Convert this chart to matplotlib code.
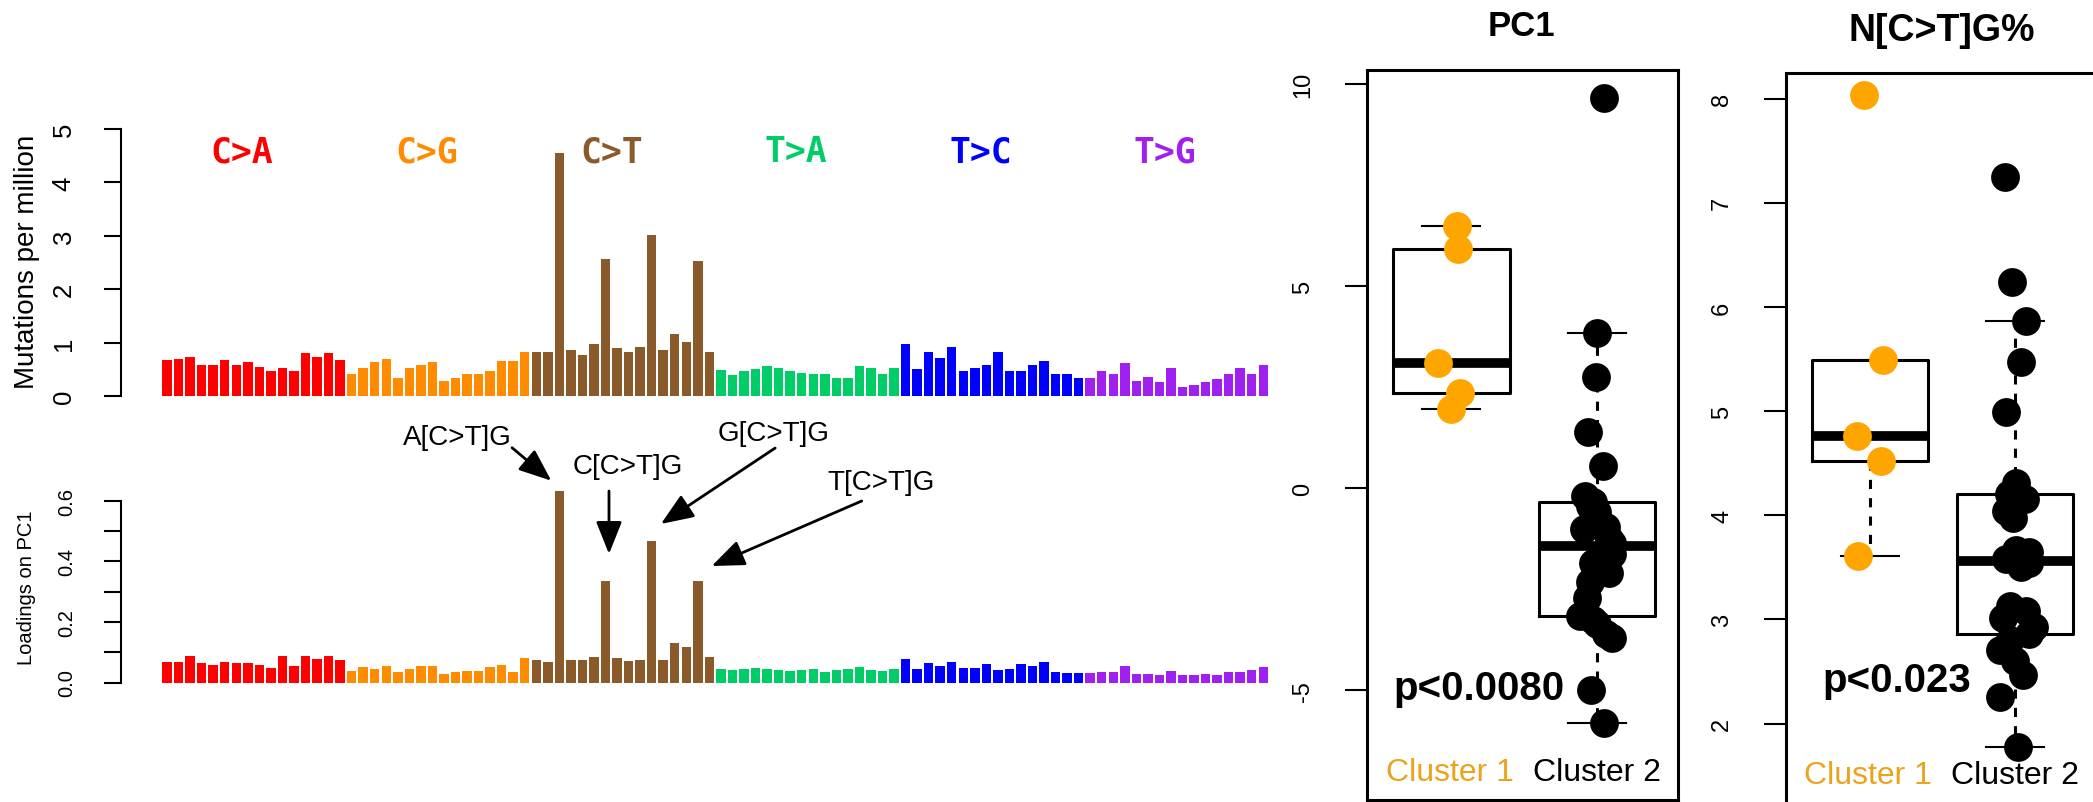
import numpy as np
import matplotlib
matplotlib.use('Agg')
import matplotlib.pyplot as plt

plt.rcParams['font.family'] = ['Liberation Sans', 'DejaVu Sans']

# 96 trinucleotide channels, 16 per substitution class
classes = ['C>A', 'C>G', 'C>T', 'T>A', 'T>C', 'T>G']
class_colors = ['#FF0000', '#FF8C00', '#8B5A2B', '#00CD66', '#0000FF', '#A020F0']

rate_ca = [0.67, 0.69, 0.74, 0.58, 0.58, 0.67, 0.58, 0.63, 0.55, 0.47, 0.52, 0.47, 0.80, 0.74, 0.80, 0.67]
rate_cg = [0.42, 0.52, 0.64, 0.69, 0.33, 0.52, 0.58, 0.64, 0.28, 0.33, 0.41, 0.41, 0.47, 0.66, 0.66, 0.82]
rate_ct = [0.82, 0.82, 4.55, 0.86, 0.77, 0.97, 2.57, 0.90, 0.83, 0.92, 3.02, 0.86, 1.17, 1.02, 2.52, 0.82]
rate_ta = [0.49, 0.39, 0.46, 0.51, 0.57, 0.52, 0.46, 0.44, 0.41, 0.41, 0.34, 0.34, 0.57, 0.52, 0.42, 0.52]
rate_tc = [0.97, 0.51, 0.82, 0.71, 0.92, 0.46, 0.52, 0.58, 0.83, 0.46, 0.47, 0.58, 0.66, 0.41, 0.41, 0.34]
rate_tg = [0.34, 0.47, 0.41, 0.61, 0.28, 0.36, 0.26, 0.52, 0.17, 0.21, 0.27, 0.32, 0.42, 0.52, 0.42, 0.58]

load_ca = [0.069, 0.069, 0.089, 0.064, 0.059, 0.069, 0.064, 0.064, 0.059, 0.047, 0.089, 0.054, 0.089, 0.078, 0.089, 0.074]
load_cg = [0.039, 0.050, 0.045, 0.054, 0.034, 0.045, 0.054, 0.054, 0.028, 0.034, 0.039, 0.039, 0.050, 0.059, 0.034, 0.080]
load_ct = [0.075, 0.067, 0.634, 0.075, 0.075, 0.083, 0.337, 0.080, 0.070, 0.075, 0.469, 0.075, 0.131, 0.116, 0.337, 0.085]
load_ta = [0.045, 0.040, 0.044, 0.048, 0.044, 0.040, 0.038, 0.042, 0.046, 0.036, 0.040, 0.044, 0.050, 0.042, 0.038, 0.046]
load_tc = [0.078, 0.045, 0.063, 0.056, 0.067, 0.047, 0.047, 0.061, 0.042, 0.045, 0.061, 0.056, 0.067, 0.036, 0.031, 0.031]
load_tg = [0.031, 0.036, 0.036, 0.056, 0.028, 0.028, 0.025, 0.039, 0.025, 0.025, 0.028, 0.025, 0.034, 0.034, 0.042, 0.050]

highlight = ['A[C>T]G', 'C[C>T]G', 'G[C>T]G', 'T[C>T]G']

# per-sample values for the two clusters
pc1_c1 = [6.48, 5.92, 3.10, 2.34, 1.96]
pc1_c2 = [9.66, 3.84, 2.76, 1.39, 0.54, -0.19, -0.35, -0.45, -0.60, -0.95, -1.01, -1.25, -1.36,
          -1.50, -1.62, -1.85, -2.10, -2.32, -2.72, -3.16, -3.25, -3.35, -3.62, -3.70, -5.00, -5.80]
nctg_c1 = [8.04, 5.49, 4.76, 4.52, 3.61]
nctg_c2 = [7.25, 6.24, 5.87, 5.47, 4.99, 4.31, 4.20, 4.16, 4.04, 3.97, 3.67, 3.65, 3.58,
           3.54, 3.50, 3.13, 3.08, 3.01, 2.93, 2.86, 2.80, 2.71, 2.60, 2.47, 2.25, 1.77]
# horizontal jitter
pc1_j1 = [0.04, 0.05, -0.09, 0.06, 0.0]
pc1_j2 = [0.05, 0.0, -0.01, -0.06, 0.04, -0.08, -0.03, -0.05, 0.0, 0.06, -0.09, 0.08, 0.10,
          0.07, 0.10, -0.03, 0.08, -0.05, -0.07, -0.12, -0.03, 0.0, 0.06, 0.10, -0.04, 0.05]
nctg_j1 = [-0.04, 0.09, -0.09, 0.08, -0.08]
nctg_j2 = [-0.07, -0.02, 0.08, 0.04, -0.06, 0.01, -0.04, 0.07, -0.06, -0.01, 0.01, 0.10, -0.06,
           0.10, 0.04, -0.03, 0.08, -0.08, 0.13, 0.10, -0.03, -0.10, 0.0, 0.06, -0.10, 0.02]
pvals = ['p<0.0080', 'p<0.023']

W, H = 2093, 803


def rect(left, top, right, bottom):
    return [left / W, 1 - bottom / H, (right - left) / W, (bottom - top) / H]


def tukey(vals):
    # R boxplot.stats: hinges + 1.5 IQR whiskers
    v = np.sort(np.asarray(vals))
    n = len(v)
    n4 = np.floor((n + 3) / 2) / 2
    d = np.array([1, n4, (n + 1) / 2, n + 1 - n4, n]) - 1
    q = 0.5 * (v[np.floor(d).astype(int)] + v[np.ceil(d).astype(int)])
    iqr = q[3] - q[1]
    lo = v[v >= q[1] - 1.5 * iqr].min()
    hi = v[v <= q[3] + 1.5 * iqr].max()
    return dict(med=q[2], q1=q[1], q3=q[3], whislo=lo, whishi=hi, fliers=[])


fig = plt.figure(figsize=(W / 100, H / 100), dpi=100)

colors = np.repeat(class_colors, 16)
idx = np.arange(96)
rates = np.concatenate([rate_ca, rate_cg, rate_ct, rate_ta, rate_tc, rate_tg])
loads = np.concatenate([load_ca, load_cg, load_ct, load_ta, load_tc, load_tg])

# --- spectrum ---
ax1 = fig.add_axes(rect(121, 120, 1280, 410))
ax1.bar(idx, rates, width=0.82, color=colors)
ax1.set_xlim(-3.99, 96.45)
ax1.set_ylim(-0.243, 5.187)
for k, (c, col) in enumerate(zip(classes, class_colors)):
    ax1.text(16 * k + 6.5, 4.58, c, color=col, ha='center', va='center',
             family='DejaVu Sans Mono', weight='bold', fontsize=25)

# --- loadings ---
ax2 = fig.add_axes(rect(121, 420, 1280, 700))
ax2.bar(idx, loads, width=0.82, color=colors)
ax2.set_xlim(-3.99, 96.45)
ax2.set_ylim(-0.0545, 0.871)

label_xy = [(25.2, 0.812), (39.9, 0.716), (52.6, 0.825), (61.9, 0.663)]
tails = [(29.9, 0.776), (38.3, 0.633), (52.7, 0.775), (60.2, 0.600)]
heads = [(33.3, 0.667), (38.3, 0.425), (42.8, 0.524), (47.2, 0.385)]
for lab, (tx, ty), tl, hd in zip(highlight, label_xy, tails, heads):
    ax2.text(tx, ty, lab, ha='center', va='center', fontsize=20)
    ax2.annotate('', xy=hd, xytext=tl,
                 arrowprops=dict(arrowstyle='-|>,head_length=1.0,head_width=0.4',
                                 lw=2, color='black', mutation_scale=20,
                                 shrinkA=0, shrinkB=0))

for ax, ticks, labs, fs, lo, hi in [
        (ax1, np.arange(6), ['0', '1', '2', '3', '4', '5'], 18.5, 0, 5),
        (ax2, np.arange(7) / 10, ['0.0', '', '0.2', '', '0.4', '', '0.6'], 14.5, 0, 0.6)]:
    for s in ['top', 'right', 'bottom']:
        ax.spines[s].set_visible(False)
    ax.spines['left'].set_bounds(lo, hi)
    ax.spines['left'].set_linewidth(1.5)
    ax.set_xticks([])
    ax.set_yticks(ticks)
    ax.set_yticklabels(labs, rotation=90, va='center', fontsize=fs)
    ax.tick_params(axis='y', length=12.5, width=1.5, pad=20)

fig.text(27 / W, 1 - 262 / H, 'Mutations per million', rotation=90,
         ha='center', va='center', fontsize=20)
fig.text(27 / W, 1 - 588 / H, 'Loadings on PC1', rotation=90,
         ha='center', va='center', fontsize=14.5)

# --- box plots ---
panels = [
    (rect(1367, 71, 1678, 801), (0.423, 2.555), (-7.714, 10.341), [-5, 0, 5, 10],
     pc1_c1, pc1_c2, pc1_j1, pc1_j2, 'PC1', (1521, 27), 25, (1.19, -4.94), -7.02),
    (rect(1786, 74, 2100, 810), (0.423, 2.588), (1.179, 8.247), [2, 3, 4, 5, 6, 7, 8],
     nctg_c1, nctg_c2, nctg_j1, nctg_j2, 'N[C>T]G%', (1942, 31), 27, (1.19, 2.42), 1.508),
]
for (r, xl, yl, yt, c1, c2, j1, j2, title, tpos, tfs, ppos, cy), pv in zip(panels, pvals):
    ax = fig.add_axes(r)
    ax.bxp([tukey(c1), tukey(c2)], positions=[1, 2], widths=0.8, capwidths=0.4,
           showfliers=False,
           boxprops=dict(lw=2.2, color='black'),
           medianprops=dict(lw=7, color='black', solid_capstyle='butt'),
           whiskerprops=dict(lw=2.2, color='black', linestyle=(0, (3, 3))),
           capprops=dict(lw=1.5, color='black'))
    ax.scatter(1 + np.array(j1), c1, s=430, color='#FFA500', zorder=3, lw=0)
    ax.scatter(2 + np.array(j2), c2, s=430, color='black', zorder=3, lw=0)
    ax.set_xlim(*xl)
    ax.set_ylim(*yl)
    ax.set_xticks([])
    ax.set_yticks(yt)
    ax.set_yticklabels([str(t) for t in yt], rotation=90, va='center', fontsize=17)
    ax.tick_params(axis='y', length=16, width=1.5, pad=22)
    for s in ax.spines.values():
        s.set_linewidth(2.2)
    ax.text(*ppos, pv, ha='center', va='center', fontsize=29, weight='bold')
    ax.text(0.99, cy, 'Cluster 1', color='#EBA21C', ha='center', va='center', fontsize=23)
    ax.text(2.0, cy, 'Cluster 2', color='black', ha='center', va='center', fontsize=23)
    fig.text(tpos[0] / W, 1 - tpos[1] / H, title, ha='center', va='center',
             fontsize=tfs, weight='bold')

fig.savefig('out.png', dpi=100)
